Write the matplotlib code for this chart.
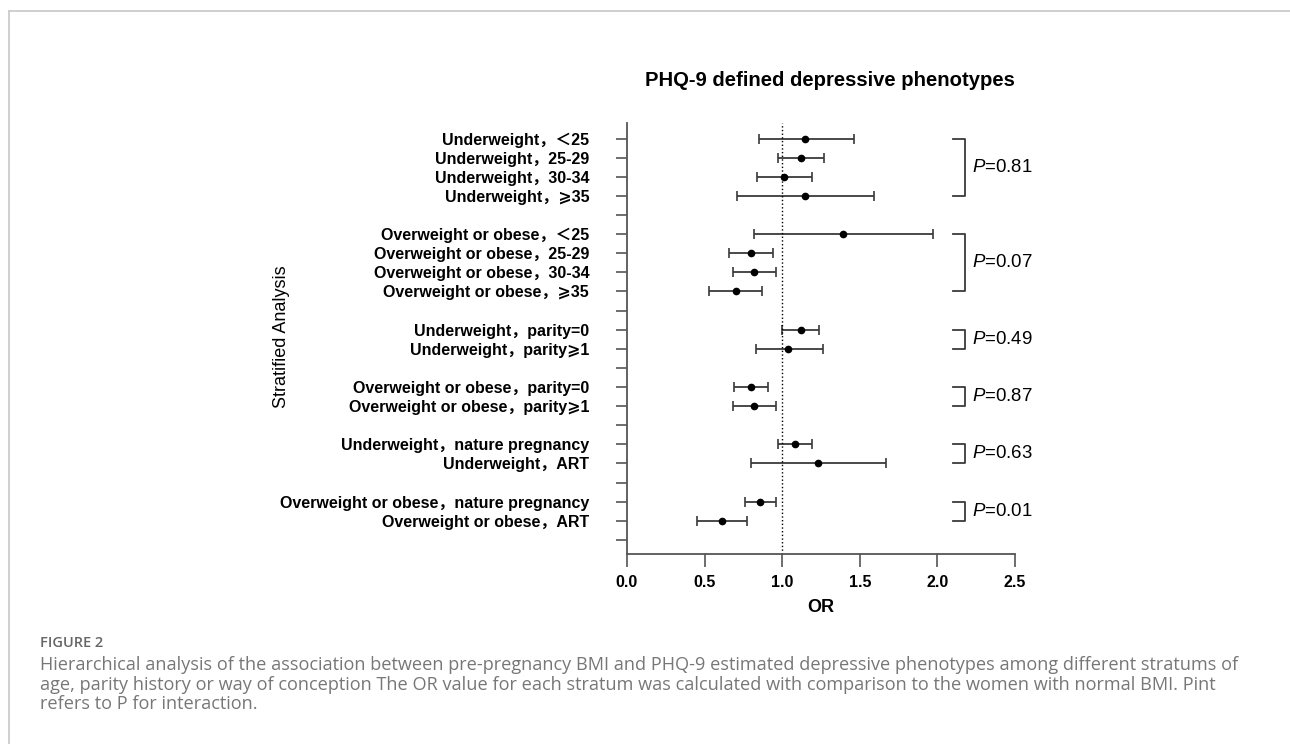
import numpy as np
import matplotlib
matplotlib.use('Agg')
import matplotlib.pyplot as plt
from matplotlib.lines import Line2D

plt.rcParams['font.family'] = ['Liberation Sans', 'Noto Sans CJK SC', 'DejaVu Sans']
plt.rcParams['mathtext.fontset'] = 'custom'
plt.rcParams['mathtext.it'] = 'Liberation Sans:italic'
plt.rcParams['mathtext.rm'] = 'Liberation Sans'

# datos
etiquetas = ['Underweight，＜25', 'Underweight，25-29', 'Underweight，30-34', 'Underweight，⩾35',
             'Overweight or obese，＜25', 'Overweight or obese，25-29',
             'Overweight or obese，30-34', 'Overweight or obese，⩾35',
             'Underweight，parity=0', 'Underweight，parity⩾1',
             'Overweight or obese，parity=0', 'Overweight or obese，parity⩾1',
             'Underweight，nature pregnancy', 'Underweight，ART',
             'Overweight or obese，nature pregnancy', 'Overweight or obese，ART']
or_est = [1.15, 1.12, 1.01, 1.15, 1.39, 0.80, 0.82, 0.70, 1.12, 1.04, 0.80, 0.82, 1.08, 1.23, 0.86, 0.61]
ic_inf = [0.85, 0.97, 0.84, 0.71, 0.82, 0.66, 0.68, 0.53, 1.00, 0.83, 0.69, 0.68, 0.97, 0.80, 0.76, 0.45]
ic_sup = [1.46, 1.27, 1.19, 1.59, 1.97, 0.94, 0.96, 0.87, 1.24, 1.26, 0.91, 0.96, 1.19, 1.67, 0.96, 0.77]
grupos = [4, 4, 2, 2, 2, 2]
p_valores = ['0.81', '0.07', '0.49', '0.87', '0.63', '0.01']

# filas: un hueco entre grupos
filas = []
inicio_grupo = []
r = 0
for n in grupos:
    inicio_grupo.append(r)
    filas.extend(range(r, r + n))
    r += n + 1
n_filas = r - 1
filas = np.array(filas)

fig = plt.figure(figsize=(12.9, 7.44), dpi=100)
ax = fig.add_axes([627/1290, 1 - 554/744, (1015 - 627)/1290, (554 - 123)/744])

x = np.array(or_est)
ax.errorbar(x, filas, xerr=[x - np.array(ic_inf), np.array(ic_sup) - x], fmt='o',
            color='black', ecolor='#3a3a3a', elinewidth=1.3, capsize=3.5, capthick=1.2,
            markersize=4.5)
ax.axvline(1.0, color='black', linestyle=':', linewidth=1)

ax.set_xlim(0, 2.5)
ax.set_ylim(n_filas + 0.735, -0.815)
ax.set_xticks(np.arange(0, 2.51, 0.5))
ax.set_xticklabels(['%.1f' % v for v in np.arange(0, 2.51, 0.5)], fontsize=11.5, fontweight='bold')

todas = [''] * (n_filas + 1)
for f, e in zip(filas, etiquetas):
    todas[f] = e + ' '
ax.set_yticks(range(n_filas + 1))
ax.set_yticklabels(todas, fontsize=11.5, fontweight='bold')
ax.tick_params(axis='y', length=8, width=1.2, pad=16, color='#555555')
ax.tick_params(axis='x', length=9, width=1.2, pad=6, color='#555555')

for s in ['top', 'right']:
    ax.spines[s].set_visible(False)
for s in ['left', 'bottom']:
    ax.spines[s].set_color('#555555')
    ax.spines[s].set_linewidth(1.3)

# corchetes con P de interaccion
for ini, n, p in zip(inicio_grupo, grupos, p_valores):
    fin = ini + n - 1
    ax.plot([2.10, 2.18, 2.18, 2.10], [ini, ini, fin, fin], color='#3a3a3a', linewidth=1.3,
            clip_on=False)
    ax.text(2.22, (ini + fin) / 2, '$P$=' + p, fontsize=13.4, va='center', ha='left')

fig.text(830/1290, 1 - 80/744, 'PHQ-9 defined depressive phenotypes', ha='center', va='center',
         fontsize=14.6, fontweight='bold')
fig.text(821/1290, 1 - 607/744, 'OR', ha='center', va='center', fontsize=13, fontweight='bold')
fig.text(281/1290, 1 - 337/744, 'Stratified Analysis', ha='center', va='center', rotation=90,
         fontsize=13)

# marco y pie de figura
fig.add_artist(Line2D([9/1290, 1], [1 - 11/744, 1 - 11/744], transform=fig.transFigure,
                      color='#cccccc', linewidth=1.3))
fig.add_artist(Line2D([9/1290, 9/1290], [0, 1 - 11/744], transform=fig.transFigure,
                      color='#cccccc', linewidth=1.3))
fig.text(40/1290, 1 - 647/744, 'FIGURE 2', fontsize=10.5, color='#666666', fontweight='semibold',
         family='Open Sans', va='baseline')
lineas = ['Hierarchical analysis of the association between pre-pregnancy BMI and PHQ-9 estimated depressive phenotypes among different stratums of',
          'age, parity history or way of conception The OR value for each stratum was calculated with comparison to the women with normal BMI. Pint',
          'refers to P for interaction.']
for i, t in enumerate(lineas):
    fig.text(40/1290, 1 - (670 + 19.5 * i)/744, t, fontsize=13.1, color='#777777',
             family='Open Sans', va='baseline')

fig.savefig('out.png', dpi=100)
